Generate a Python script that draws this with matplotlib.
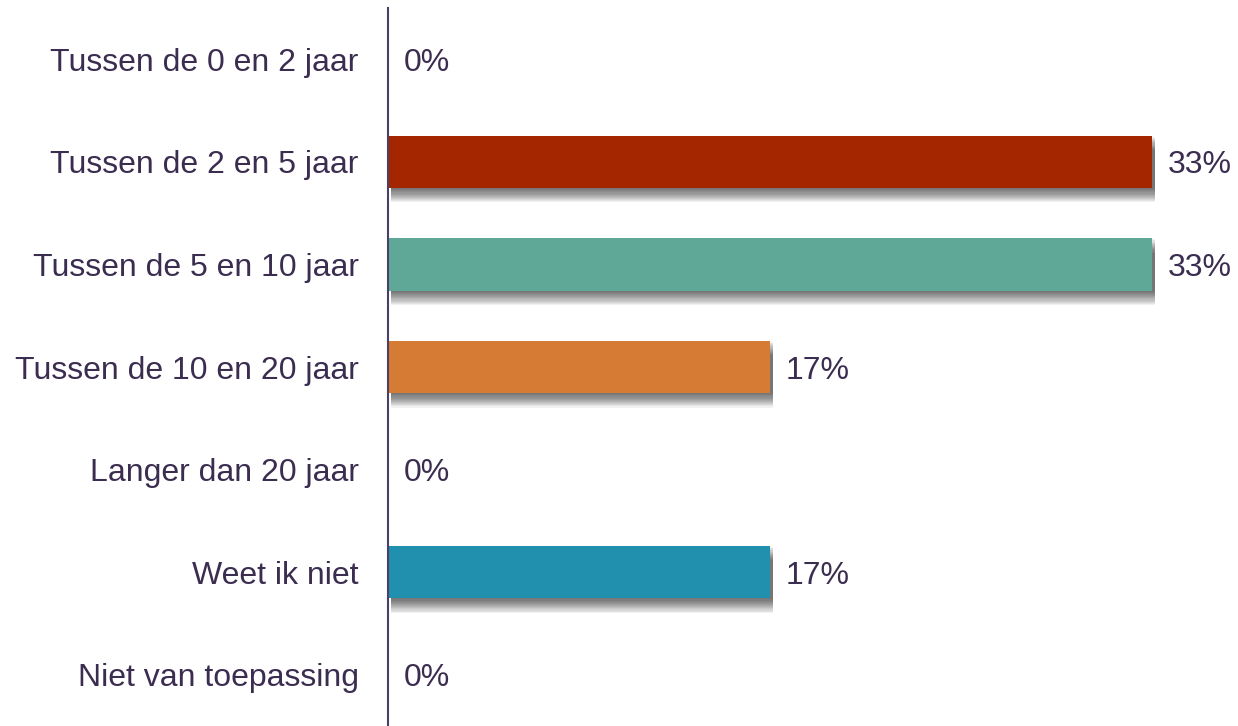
import matplotlib
matplotlib.use("Agg")
import matplotlib.pyplot as plt
import matplotlib.patheffects as pe

categories = ["Tussen de 0 en 2 jaar", "Tussen de 2 en 5 jaar", "Tussen de 5 en 10 jaar",
              "Tussen de 10 en 20 jaar", "Langer dan 20 jaar", "Weet ik niet", "Niet van toepassing"]
values = [0, 33.33, 33.33, 16.67, 0, 16.67, 0]
labels = ["0%", "33%", "33%", "17%", "0%", "17%", "0%"]
colors = ["#A32600", "#A32600", "#5FA898", "#D67B34", "#D67B34", "#2090AE", "#2090AE"]

text_color = "#3B2D50"
plt.rcParams['font.family'] = ['Liberation Sans', 'DejaVu Sans']

fig = plt.figure(figsize=(12.38, 7.26), dpi=100)
ax = fig.add_axes([388/1238, 0, 1 - 388/1238, 1 - 8/726])

y = list(range(len(categories)))
shadows = [pe.SimplePatchShadow(offset=(2, -d * 0.8), shadow_rgbFace="black", alpha=0.055) for d in range(1, 14)]
bars = ax.barh(y, values, height=0.51, color=colors, zorder=3)
for b, v in zip(bars, values):
    if v > 0:
        b.set_path_effects(shadows + [pe.Normal()])

for yi, v, lab in zip(y, values, labels):
    ax.annotate(lab, (v, yi), xytext=(11.5, 0), textcoords="offset points",
                ha="left", va="center_baseline", fontsize=23, color=text_color)

ax.set_ylim(len(categories) - 0.5, -0.5)
ax.set_xlim(0, 37.08)
ax.set_yticks(y)
ax.set_yticklabels(categories, fontsize=23, color=text_color)
ax.tick_params(axis="y", length=0, pad=21)
ax.set_xticks([])
for s in ["top", "right", "bottom"]:
    ax.spines[s].set_visible(False)
ax.spines["left"].set_color("#4A3F66")
ax.spines["left"].set_linewidth(1.5)
ax.spines["left"].set_zorder(5)

fig.savefig("out.png", dpi=100)
